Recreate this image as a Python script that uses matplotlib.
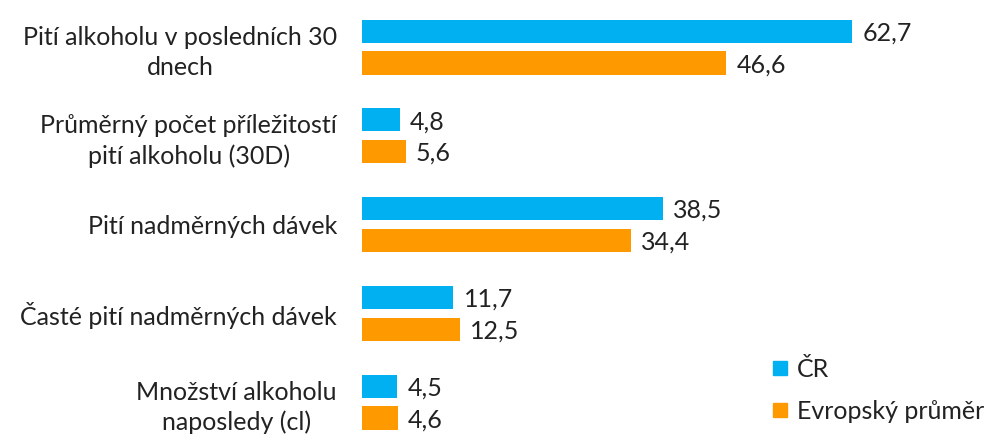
import matplotlib
matplotlib.use("Agg")
import matplotlib.pyplot as plt
from matplotlib.lines import Line2D
import numpy as np

# ========================= 数据 =========================
categories = [
    "Pití alkoholu v posledních 30\ndnech",
    "Průměrný počet příležitostí\npití alkoholu (30D)",
    "Pití nadměrných dávek",
    "Časté pití nadměrných dávek",
    "Množství alkoholu\nnaposledy (cl)",
]
cr_values = [62.7, 4.8, 38.5, 11.7, 4.5]
eu_values = [46.6, 5.6, 34.4, 12.5, 4.6]
series_names = ["ČR", "Evropský průměr"]

BLUE = "#00B0F0"
ORANGE = "#FF9900"
TEXT = "#222222"
FS = 18

plt.rcParams["font.family"] = ["Lato", "DejaVu Sans"]

fig = plt.figure(figsize=(9.87, 4.34), dpi=100)
ax = fig.add_axes([362 / 987, 0, 625 / 987, 1])

y = np.arange(len(categories))
off = 0.18
h = 0.26
ax.barh(y - off, cr_values, height=h, color=BLUE)
ax.barh(y + off, eu_values, height=h, color=ORANGE)

for yi, v in zip(y - off, cr_values):
    ax.text(v + 1.3, yi + 0.02, f"{v:.1f}".replace(".", ","), va="center",
            ha="left", fontsize=FS, color=TEXT)
for yi, v in zip(y + off, eu_values):
    ax.text(v + 1.3, yi + 0.02, f"{v:.1f}".replace(".", ","), va="center",
            ha="left", fontsize=FS, color=TEXT)

ax.set_xlim(0, 625 / 7.815)
ax.set_ylim(4.36, -0.53)
ax.set_yticks(y)
ax.set_yticklabels(categories, fontsize=FS, color=TEXT, multialignment="center",
                   linespacing=1.35)
ax.tick_params(axis="y", length=0, pad=18)
ax.set_xticks([])
for s in ax.spines.values():
    s.set_visible(False)

handles = [Line2D([], [], marker="s", linestyle="none", markersize=9.5, color=BLUE),
           Line2D([], [], marker="s", linestyle="none", markersize=9.5, color=ORANGE)]
fig.legend(handles, series_names, loc="upper left", bbox_to_anchor=(762 / 987, 1 - 348 / 434),
           frameon=False, fontsize=FS, handlelength=0.6, handletextpad=0.4,
           labelspacing=0.75, labelcolor=TEXT, borderaxespad=0)

plt.savefig("out.png", dpi=100)
